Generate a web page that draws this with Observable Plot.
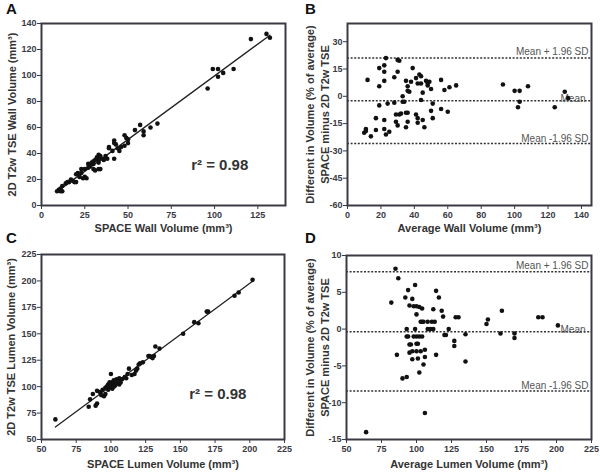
<!DOCTYPE html>
<html>
<head>
<meta charset="utf-8">
<script src="https://cdn.jsdelivr.net/npm/d3@7"></script>
<script src="https://cdn.jsdelivr.net/npm/@observablehq/plot@0.6"></script>
<style>
  html, body { margin: 0; padding: 0; background: #fff; }
  #wrap { position: relative; width: 600px; height: 474px; overflow: hidden; background: #fff; }
  .panel { position: absolute; width: 300px; height: 237px; }
  #wrap svg { font-family: "Liberation Sans", Arial, sans-serif; font-size: 9px; font-weight: bold; color: #3a3a44; }
  .letter { position: absolute; font: bold 15px "Liberation Sans", Arial, sans-serif; color: #111; }
</style>
</head>
<body>
<div id="wrap">
  <div class="panel" id="pA" style="left:0;top:0"></div>
  <div class="panel" id="pB" style="left:300px;top:0"></div>
  <div class="panel" id="pC" style="left:0;top:237px"></div>
  <div class="panel" id="pD" style="left:300px;top:237px"></div>
  <div class="letter" style="left:6px;top:0px">A</div>
  <div class="letter" style="left:305px;top:0px">B</div>
  <div class="letter" style="left:6px;top:229px">C</div>
  <div class="letter" style="left:305px;top:229px">D</div>
</div>
<script>
// ---- Panel A: wall volume, SPACE vs 2D T2w TSE ----
const wallSpace = [130,132,121,99,102,111,105,102,96,67,63,59,59,57,54,50,50,48,49,46,48,45,44,43,42,42,42,41,39,39,38,37,36,35,34,33,33,33,32,32,31,30,30,29,28,28,27,27,30,33,34,31,25,25,24,26,23,23,21,20,22,20,18,19,17,16,14,15,12,11,10,9,12,11];
const wallTse   = [132,129,128,105,105,105,102,99,90,63,60,57,54,62,58,48,51,54,52,45,46,42,44,47,50,48,36,42,45,44,36,38,35,36,38,39,35,33,37,36,35,34,32,33,31,30,29,32,28,28,28,27,28,22,21,21,28,25,25,24,22,18,19,18,20,18,17,18,15,13,12,11,11,11];

// ---- Panel B: Bland-Altman wall ----
const wallAvg  = [12,19,19,19,17,17,10,11,11,14,22,22,23,22,22,22,23,25,24,28,28,29,29,30,30,31,30,31,32,33,33,34,35,35,36,36,36,37,36,35,38,39,41,41,42,42,42,43,44,44,44,45,45,46,47,48,48,49,50,50,51,51,56,56,58,60,61,65,93,100,102,103,103,108,124,130,132];
const wallDiff = [9,15.5,5.5,-5,-12,-18.5,-20,-19,-18,-22,13.5,17,21,8.5,-13,-18,-21,-19.5,-4,-3.5,10.5,-10,-14,13.5,20,19.5,-16,-10,-9.5,0,-3,-3,8.5,-9,-9,5.5,3,2.5,-14,-17,8,15.5,10,-10,-12,7,-14.5,12,11,7,-2,2,-13,-17,8.5,7,6,8,4,-8,-4,-12,9,-7,3.5,-8.5,5,6,6.5,3,-6,3,-3,5.5,-6,2.5,-1];
const wallLines = [21, -2.5, -26];
const wallLineLabels = ["Mean + 1.96 SD", "Mean", "Mean -1.96 SD"];

// ---- Panel C: lumen volume ----
const lumenSpace = [60,84,85,87,89,90,90,92,93,94,95,96,96,97,98,98,99,99,100,100,101,101,102,102,103,103,104,105,105,106,106,107,108,110,111,112,113,115,117,118,119,120,121,123,127,129,131,132,135,152,160,163,169,170,189,192,202,130,128];
const lumenTse   = [69,81,88,93,82,84,96,95,92,97,91,93,99,100,97,102,104,99,112,101,98,104,100,106,103,101,107,105,103,102,108,104,107,109,108,112,117,111,112,115,117,121,122,123,129,128,129,138,136,150,161,160,171,171,186,189,201,127,129];

// ---- Panel D: Bland-Altman lumen ----
const lumenAvg  = [64,82,85,86,87,90,92,93,93,93,94,94,95,95,95,96,97,97,97,98,99,98,99,100,100,100,100,100,101,101,102,102,102,103,103,104,104,104,105,105,106,106,106,108,108,110,111,112,112,113,114,114,116,118,119,120,121,123,127,127,128,130,135,135,150,151,160,161,170,170,187,190,201];
const lumenDiff = [-14,3.6,8.2,-3.5,6.9,-6.7,4.3,0,-1,-6.5,5.3,-1,3.2,-2.1,-3.2,-2.1,4.1,-3,-4.1,-1,6,3.1,0,2,3.1,-1,-2,-3,-4,-2,3,-1,-5.9,1,-3,2.8,1,-1,1,-4.8,-3.8,-11.4,-2.8,0,1,0,1,0,2.7,1,5.2,-3.5,4.3,2.5,1.7,-0.8,-0.8,0,-2.3,-1.6,1.6,1.6,-0.7,-4.4,0.7,1.3,-0.6,2.5,-0.6,-1.2,1.6,1.6,0.5];
const lumenLines = [7.8, -0.35, -8.4];
const lumenLineLabels = ["Mean + 1.96 SD", "Mean", "Mean -1.96 SD"];

const r2Label = "r\u00B2 = 0.98";

const FONT = '"Liberation Sans", Arial, sans-serif';
const NARROW = '"Liberation Sans Narrow", "Liberation Sans", Arial, sans-serif';
const FRAME = "#3a3a44";
const fmt = d => String(d);

function zip(a, b) { return a.map((v, i) => ({x: v, y: b[i]})); }

function labels(o) {
  return [
    Plot.text([o.xlabel], {frameAnchor: "bottom", text: d => d, dy: o.xlabelDy,
      textAnchor: "middle", fontSize: 11, fontWeight: "bold", fill: "#333", fontFamily: FONT}),
    ...o.ylabels.map((lab, i) => Plot.text([lab], {frameAnchor: "left", text: d => d, rotate: -90,
      textAnchor: "middle", lineAnchor: "middle",
      dx: o.ylabelDx[i], fontSize: 11, fontWeight: "bold", fill: "#333", fontFamily: FONT}))
  ];
}

function scales(o) {
  return {
    x: {domain: o.xdomain, ticks: o.xticks, tickSize: 4, tickPadding: 2, tickFormat: fmt, label: null},
    y: {domain: o.ydomain, ticks: o.yticks, tickSize: 4, tickPadding: 1, tickFormat: fmt, label: null}
  };
}

function scatter(o) {
  const data = zip(o.xs, o.ys);
  return Plot.plot({
    width: 300, height: 237,
    marginLeft: o.ml, marginRight: o.mr, marginTop: o.mt, marginBottom: o.mb,
    ...scales(o),
    marks: [
      Plot.linearRegressionY(data, {x: "x", y: "y", ci: 0, stroke: "#222", strokeWidth: 1.3}),
      Plot.dot(data, {x: "x", y: "y", r: 2.3, fill: "#111", stroke: "none"}),
      Plot.text([r2Label], {x: o.r2[0], y: o.r2[1], text: d => d, fontSize: 15,
        fontWeight: "bold", fill: "#333", fontFamily: FONT}),
      ...labels(o),
      Plot.frame({stroke: FRAME, strokeWidth: 2})
    ]
  });
}

function blandAltman(o) {
  const data = zip(o.xs, o.ys);
  const xmax = o.xdomain[1];
  const dys = [-6, -2, -5];
  return Plot.plot({
    width: 300, height: 237,
    marginLeft: o.ml, marginRight: o.mr, marginTop: o.mt, marginBottom: o.mb,
    ...scales(o),
    marks: [
      Plot.ruleY(o.lines, {stroke: "#333", strokeWidth: 1.5, strokeDasharray: "2,1.6"}),
      ...o.lines.map((v, i) => Plot.text([o.lineLabels[i]], {x: xmax, y: v, text: d => d,
        textAnchor: "end", dx: i === 1 ? -6 : -3, dy: dys[i],
        fontSize: 10, fontWeight: "normal", fill: "#555", fontFamily: NARROW})),
      Plot.dot(data, {x: "x", y: "y", r: 2.3, fill: "#111", stroke: "none"}),
      ...labels(o),
      Plot.frame({stroke: FRAME, strokeWidth: 2})
    ]
  });
}

document.getElementById("pA").append(scatter({
  xs: wallSpace, ys: wallTse,
  xdomain: [0, 141], ydomain: [0, 140],
  xticks: [0, 25, 50, 75, 100, 125], yticks: [0, 20, 40, 60, 80, 100, 120, 140],
  ml: 41, mr: 15, mt: 23, mb: 32,
  xlabel: "SPACE Wall Volume (mm\u00B3)", xlabelDy: 26,
  ylabels: ["2D T2w TSE Wall Volume (mm\u00B3)"], ylabelDx: [-29],
  r2: [103, 31]
}));

document.getElementById("pB").append(blandAltman({
  xs: wallAvg, ys: wallDiff,
  xdomain: [0, 146], ydomain: [-60, 40],
  xticks: [0, 20, 40, 60, 80, 100, 120, 140], yticks: [-60, -45, -30, -15, 0, 15, 30],
  ml: 47, mr: 9, mt: 23, mb: 32,
  xlabel: "Average Wall Volume (mm\u00B3)", xlabelDy: 26,
  ylabels: ["Different in Volume (% of average)", "SPACE minus 2D T2w TSE"], ylabelDx: [-37, -22],
  lines: wallLines, lineLabels: wallLineLabels
}));

document.getElementById("pC").append(scatter({
  xs: lumenSpace, ys: lumenTse,
  xdomain: [50, 225], ydomain: [50, 225],
  xticks: [50, 75, 100, 125, 150, 175, 200, 225], yticks: [50, 75, 100, 125, 150, 175, 200, 225],
  ml: 41, mr: 16, mt: 17, mb: 35,
  xlabel: "SPACE Lumen Volume (mm\u00B3)", xlabelDy: 28,
  ylabels: ["2D T2w TSE Lumen Volume (mm\u00B3)"], ylabelDx: [-30],
  r2: [177, 93]
}));

document.getElementById("pD").append(blandAltman({
  xs: lumenAvg, ys: lumenDiff,
  xdomain: [50, 225], ydomain: [-15, 10],
  xticks: [50, 75, 100, 125, 150, 175, 200, 225], yticks: [-15, -10, -5, 0, 5, 10],
  ml: 46, mr: 9, mt: 18, mb: 35,
  xlabel: "Average Lumen Volume (mm\u00B3)", xlabelDy: 28,
  ylabels: ["Different in Volume (% of average)", "SPACE minus 2D T2w TSE"], ylabelDx: [-36, -21],
  lines: lumenLines, lineLabels: lumenLineLabels
}));
</script>
</body>
</html>
